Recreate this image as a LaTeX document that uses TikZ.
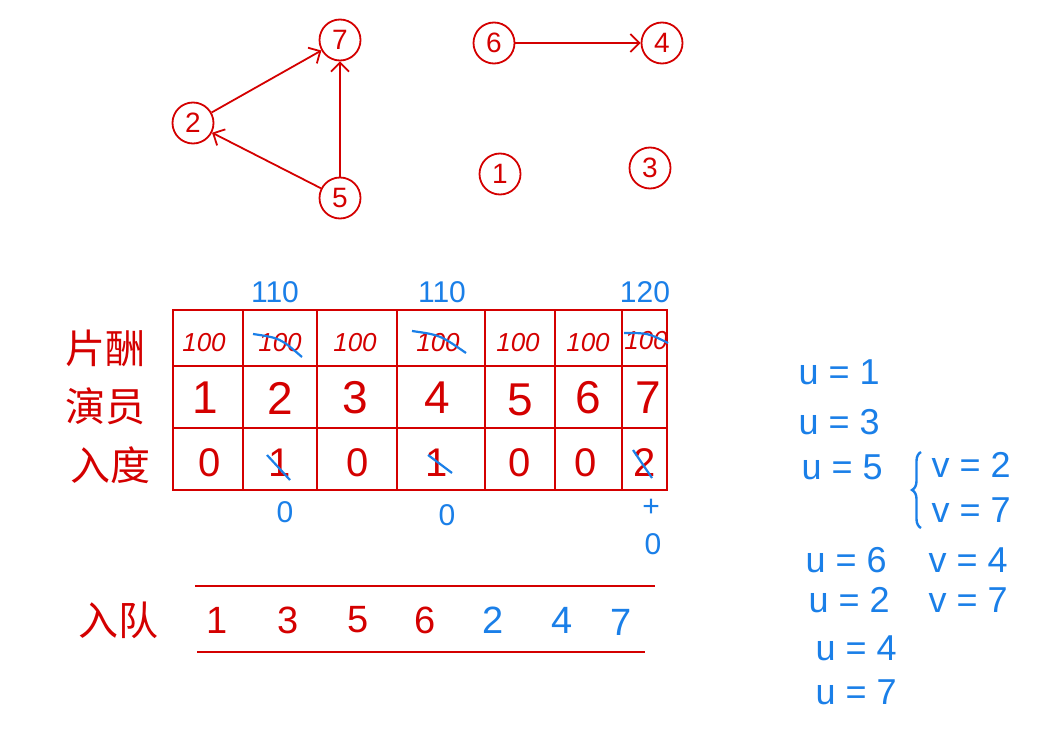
\documentclass[tikz,border=0pt]{standalone}
\usepackage{fontspec}
\setmainfont{Liberation Sans}
\newfontfamily\cjk{Noto Sans CJK SC}
\usetikzlibrary{arrows.meta,decorations.pathreplacing}
\definecolor{hred}{HTML}{D40000}
\definecolor{hblue}{HTML}{1A7FE8}
\begin{document}
\begin{tikzpicture}[x=1pt,y=-1pt,
  gnode/.style={circle,draw=hred,line width=1.8pt,minimum size=41pt,inner sep=0pt,text=hred,font=\fontsize{28}{28}\selectfont},
  gedge/.style={hred,line width=1.8pt,-{Straight Barb[length=9pt,width=18pt,line width=1.8pt]}},
  grid/.style={hred,line width=2pt},
  fee/.style={text=hred,font=\fontsize{26}{26}\selectfont\itshape},
  big/.style={text=hred,font=\fontsize{46}{46}\selectfont},
  deg/.style={text=hred,font=\fontsize{40}{40}\selectfont},
  note/.style={text=hblue,font=\fontsize{30}{30}\selectfont},
  strike/.style={hblue,line width=2.2pt},
  lab/.style={text=hred,font=\cjk\fontsize{40}{40}\selectfont},
  uv/.style={text=hblue,font=\fontsize{36}{36}\selectfont,anchor=west},
  qred/.style={text=hred,font=\fontsize{38}{38}\selectfont},
  qblue/.style={text=hblue,font=\fontsize{38}{38}\selectfont},
  qline/.style={hred,line width=1.8pt}
]
\useasboundingbox (0,0) rectangle (1048,730);
\fill[white] (0,0) rectangle (1048,730);

% graph
\node[gnode] (n7) at (340,40) {7};
\node[gnode] (n2) at (193,123) {2};
\node[gnode] (n5) at (340,198) {5};
\node[gnode] (n6) at (494,43) {6};
\node[gnode] (n4) at (662,43) {4};
\node[gnode] (n1) at (500,174) {1};
\node[gnode] (n3) at (650,168) {3};
\draw[gedge] (n2) -- (n7);
\draw[gedge] (n5) -- (n7);
\draw[gedge] (n5) -- (n2);
\draw[gedge] (n6) -- (n4);

% table grid
\draw[grid] (173,310) rectangle (667,490);
\draw[grid] (173,366) -- (667,366);
\draw[grid] (173,428) -- (667,428);
\foreach \x in {243,317,397,485,555,622} \draw[grid] (\x,310) -- (\x,490);

% row labels
\node[lab] (l1) at (105,348) {片酬};
\node[lab] (l2) at (105,406) {演员};
\node[lab] (l3) at (110,465) {入度};

% fee row
\node[fee] (f1) at (204,343) {100};
\node[fee] (f2) at (280,343) {100};
\node[fee] (f3) at (355,343) {100};
\node[fee] (f4) at (438,343) {100};
\node[fee] (f5) at (518,343) {100};
\node[fee] (f6) at (588,343) {100};
\node[fee] (f7) at (646,341) {100};
\draw[strike] (253,334) .. controls (280,338) .. (302,357);
\draw[strike] (412,331) .. controls (440,335) .. (466,353);
\draw[strike] (624,333) .. controls (648,333) .. (668,343);

% actor row
\node[big] (a1) at (205,398) {1};
\node[big] (a2) at (280,398) {2};
\node[big] (a3) at (355,398) {3};
\node[big] (a4) at (437,398) {4};
\node[big] (a5) at (520,400) {5};
\node[big] (a6) at (588,398) {6};
\node[big] (a7) at (648,398) {7};

% in-degree row
\node[deg] (d1) at (210,463) {0};
\node[deg] (d2) at (280,463) {1};
\node[deg] (d3) at (358,463) {0};
\node[deg] (d4) at (437,463) {1};
\node[deg] (d5) at (520,463) {0};
\node[deg] (d6) at (586,463) {0};
\node[deg] (d7) at (645,463) {2};
\draw[strike] (267,455) -- (290,480);
\draw[strike] (428,455) -- (452,473);
\draw[strike] (633,450) -- (652,478);

% blue notes
\node[note] (t2) at (275,292) {110};
\node[note] (t4) at (442,292) {110};
\node[note] (t7) at (645,292) {120};
\node[note] (b2) at (285,512) {0};
\node[note] (b4) at (447,515) {0};
\node[note] (b7a) at (651,508) {+};
\node[note] (b7b) at (653,544) {0};

% queue
\draw[qline] (195,586) -- (655,586);
\draw[qline] (197,652) -- (645,652);
\node[lab] (ql) at (118,620) {入队};
\node[qred] (q1) at (217,620) {1};
\node[qred] (q2) at (288,620) {3};
\node[qred] (q3) at (358,620) {5};
\node[qred] (q4) at (425,620) {6};
\node[qblue] (q5) at (493,620) {2};
\node[qblue] (q6) at (562,620) {4};
\node[qblue] (q7) at (621,622) {7};

% u/v log
\node[uv] (u1) at (795,372) {u = 1};
\node[uv] (u3) at (795,422) {u = 3};
\node[uv] (u5) at (798,467) {u = 5};
\draw[hblue,line width=2.4pt,decorate,decoration={brace,amplitude=9pt}] (921,528) -- (921,452);
\node[uv] (v2) at (928,465) {v = 2};
\node[uv] (v7) at (928,510) {v = 7};
\node[uv] (u6) at (802,560) {u = 6};
\node[uv] (v4) at (925,560) {v = 4};
\node[uv] (u2) at (805,600) {u = 2};
\node[uv] (v7b) at (925,600) {v = 7};
\node[uv] (u4) at (812,648) {u = 4};
\node[uv] (u7) at (812,692) {u = 7};
\end{tikzpicture}
\end{document}
